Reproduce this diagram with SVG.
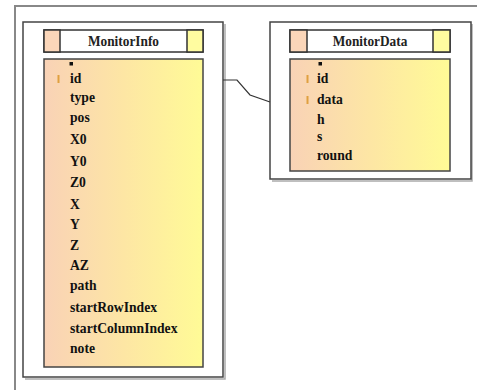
<svg xmlns="http://www.w3.org/2000/svg" width="477" height="390" viewBox="0 0 477 390">
<defs>
<linearGradient id="bg" x1="0" y1="0" x2="1" y2="0">
<stop offset="0" stop-color="#f9d2b6"/>
<stop offset="0.5" stop-color="#fde6a4"/>
<stop offset="1" stop-color="#fffb96"/>
</linearGradient>
<style>
.frame{fill:none;stroke:#888;stroke-width:2}
.box{fill:#fff;stroke:#444;stroke-width:1.5}
.shadow{fill:none;stroke:#aaa;stroke-width:1.5}
.hdr{fill:#fff;stroke:#333;stroke-width:1.5}
.sqL{fill:#fbd6b9;stroke:#333;stroke-width:1.5}
.sqR{fill:#fffca0;stroke:#333;stroke-width:1.5}
.body{fill:url(#bg);stroke:#444;stroke-width:1.5}
.t{font-family:"Liberation Serif",serif;font-weight:bold;font-size:15.5px;fill:#111}
.ttl{font-family:"Liberation Serif",serif;font-weight:bold;font-size:15.5px;fill:#222;text-anchor:middle}
.key{fill:#e0a040}
.conn{fill:none;stroke:#333;stroke-width:1.2}
</style>
</defs>
<path class="frame" d="M15,390 V6 H477"/>
<g id="MonitorInfo">
<polyline class="shadow" points="225,24 225,379 25,379"/>
<rect class="box" x="23" y="22" width="200" height="355"/>
<rect class="hdr" x="44" y="30" width="159" height="22"/>
<rect class="sqL" x="44" y="30" width="16" height="22"/>
<rect class="sqR" x="187" y="30" width="16" height="22"/>
<text class="ttl" transform="translate(123.5,46) scale(0.86,1)">MonitorInfo</text>
<rect class="body" x="44" y="59" width="159" height="308"/>
<rect x="69.5" y="62" width="3.5" height="3.5" fill="#111"/>
<rect class="key" x="57.5" y="75" width="2" height="8"/>
<g transform="translate(70,0) scale(0.88,1)">
<text class="t" x="0" y="83">id</text>
<text class="t" x="0" y="102">type</text>
<text class="t" x="0" y="122">pos</text>
<text class="t" x="0" y="144">X0</text>
<text class="t" x="0" y="166">Y0</text>
<text class="t" x="0" y="187">Z0</text>
<text class="t" x="0" y="209">X</text>
<text class="t" x="0" y="229">Y</text>
<text class="t" x="0" y="250">Z</text>
<text class="t" x="0" y="270">AZ</text>
<text class="t" x="0" y="290">path</text>
<text class="t" x="0" y="312">startRowIndex</text>
<text class="t" x="0" y="333">startColumnIndex</text>
<text class="t" x="0" y="353">note</text>
</g>
</g>
<g id="MonitorData">
<polyline class="shadow" points="472,24 472,181 272,181"/>
<rect class="box" x="270" y="22" width="201" height="157"/>
<rect class="hdr" x="290" y="30" width="160" height="22"/>
<rect class="sqL" x="290" y="30" width="17" height="22"/>
<rect class="sqR" x="433" y="30" width="17" height="22"/>
<text class="ttl" transform="translate(370,46) scale(0.86,1)">MonitorData</text>
<rect class="body" x="290" y="59" width="160" height="112"/>
<rect x="318.5" y="62" width="3.5" height="3.5" fill="#111"/>
<rect class="key" x="306.5" y="75" width="2" height="8"/>
<rect class="key" x="306.5" y="96" width="2" height="8"/>
<g transform="translate(317,0) scale(0.88,1)">
<text class="t" x="0" y="83">id</text>
<text class="t" x="0" y="104">data</text>
<text class="t" x="0" y="124">h</text>
<text class="t" x="0" y="141">s</text>
<text class="t" x="0" y="160">round</text>
</g>
</g>
<g id="connectors">
<polyline class="conn" points="223,80 237,80 250,95 270,102"/>
</g>
</svg>
